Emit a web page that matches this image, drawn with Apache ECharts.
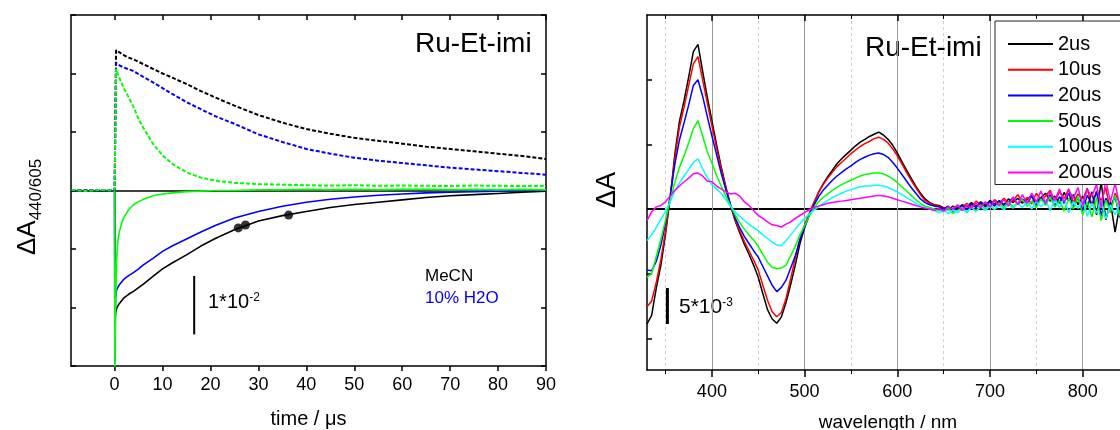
<!DOCTYPE html>
<html><head><meta charset="utf-8">
<script src="https://cdn.jsdelivr.net/npm/echarts@6/dist/echarts.min.js"></script>
<style>html,body{margin:0;padding:0;background:#fff}#c{width:1120px;height:430px}</style>
</head><body><div id="c"></div>
<script>
// ================= LEFT PANEL: kinetic traces (ΔA, units of 1e-2) =================
const timeTicks = [0, 10, 20, 30, 40, 50, 60, 70, 80, 90];
// positive (dotted) traces
const timePos = [-9, -6, -3, -0.5, 0, 0.3, 1, 2, 3, 4, 5, 6, 8, 10, 12, 15, 18, 21, 25, 30, 35, 40, 45, 50, 55, 60, 65, 70, 75, 80, 85, 90];
const posBlack = [0, 0, 0, 0, 0, 2.40, 2.36, 2.31, 2.27, 2.24, 2.20, 2.16, 2.08, 2.00, 1.93, 1.82, 1.70, 1.59, 1.45, 1.29, 1.16, 1.05, 0.97, 0.90, 0.85, 0.80, 0.75, 0.71, 0.67, 0.63, 0.59, 0.54];
const posBlue = [0, 0, 0, 0, 0, 2.18, 2.14, 2.10, 2.07, 2.04, 1.99, 1.94, 1.85, 1.75, 1.65, 1.51, 1.39, 1.27, 1.14, 0.96, 0.83, 0.71, 0.63, 0.56, 0.51, 0.47, 0.43, 0.39, 0.36, 0.33, 0.30, 0.27];
const posGreen = [0.01, -0.01, 0.01, 0, 0, 2.08, 1.92, 1.74, 1.58, 1.42, 1.22, 1.07, 0.80, 0.60, 0.46, 0.31, 0.22, 0.17, 0.13, 0.11, 0.10, 0.09, 0.085, 0.09, 0.08, 0.085, 0.08, 0.075, 0.085, 0.08, 0.075, 0.08];
// negative (solid) traces
const timeNeg = [0, 0.05, 0.2, 0.4, 0.7, 1, 1.5, 2, 3, 4, 5, 6, 8, 10, 12, 15, 18, 21, 25, 30, 35, 40, 45, 50, 55, 60, 65, 70, 75, 80, 85, 90];
const negBlack = [0, -2.2, -2.1, -2.02, -1.97, -1.93, -1.88, -1.83, -1.77, -1.72, -1.66, -1.60, -1.47, -1.34, -1.24, -1.10, -0.95, -0.82, -0.67, -0.52, -0.43, -0.36, -0.29, -0.24, -0.20, -0.16, -0.12, -0.09, -0.07, -0.05, -0.03, -0.01];
const negBlue = [0, -2.95, -1.85, -1.70, -1.65, -1.61, -1.56, -1.51, -1.45, -1.40, -1.34, -1.27, -1.16, -1.04, -0.95, -0.83, -0.71, -0.60, -0.47, -0.36, -0.27, -0.20, -0.15, -0.11, -0.08, -0.06, -0.04, -0.03, -0.02, -0.01, 0, 0];
const negGreen = [0, -3.1, -2.0, -1.2, -0.85, -0.70, -0.55, -0.45, -0.32, -0.24, -0.19, -0.15, -0.09, -0.06, -0.04, -0.02, -0.01, 0, 0, 0.01, 0.01, 0.02, 0.01, 0.02, 0.01, 0.02, 0.02, 0.01, 0.02, 0.01, 0.02, 0.01];
// dots on the black trace
const dotTimes = [25.8, 27.3, 36.3];
const dotValues = [-0.64, -0.59, -0.42];
// scale bar: 1*10^-2 = 1 unit
const barLeftTime = [16.6, 16.6];
const barLeftValue = [-1.46, -2.46];

// ================= RIGHT PANEL: spectra (ΔA, units of 1e-3) =================
const wlMajor = [400, 500, 600, 700, 800];
const wlMinor = [350, 450, 550, 650, 750, 850];
const specTicks = [-18, -9, 0, 9, 18];
const seriesNames = ['2us', '10us', '20us', '50us', '100us', '200us'];
const seriesColors = ['#000000', '#ff0000', '#0000ff', '#00ff00', '#00ffff', '#ff00ff'];
const wavelengths = [330,335,340,345,350,355,360,365,370,375,380,385,390,395,400,405,410,415,420,425,430,435,440,445,450,455,460,465,470,475,480,485,490,495,500,505,510,515,520,525,530,535,540,545,550,555,560,565,570,575,580,585,590,595,600,605,610,615,620,625,630,635,640,645,650,655,660,665,670,675,680,685,690,695,700,705,710,715,720,725,730,735,740,745,750,755,760,765,770,775,780,785,790,795,800,805,810,815,820,825,830,835,840];
const spec2us = [-16.0,-14.8,-11.0,-7.8,-3.5,1.5,7.6,12.2,15.1,18.4, 21.9,22.9,19.2,15.6,12.3,9.0,5.9,3.1,0.6,-1.6, -3.3,-4.9,-6.3,-7.8,-9.5,-11.8,-14.0,-15.3,-15.9,-15.0, -13.0,-10.5,-7.8,-4.8,-2.6,-0.8,0.8,2.3,3.5,4.5, 5.4,6.3,7.0,7.6,8.2,8.8,9.3,9.7,10.1,10.4, 10.7,10.3,9.7,8.9,7.8,6.6,5.4,4.3,3.2,2.2, 1.4,0.9,0.6,
  0.5,0.2,-0.1,0.4,0.0,0.6,0.3,0.9,0.4,1.0, 0.5,1.2,0.7,1.1,0.6,1.4,0.9,1.5,0.8,1.3, 1.9,0.9,1.6,2.2,1.1,1.8,0.8,2.3,1.2,2.0, 0.6,1.8,0.2,2.4,-0.8,3.8,-1.5,1.0,-3.2,0.5];
const spec10us = [-13.6,-12.8,-10.2,-7.0,-3.0,1.6,7.0,11.4,14.2,17.2, 20.2,21.2,18.0,14.8,11.6,8.5,5.6,3.0,0.6,-1.5, -3.0,-4.5,-5.8,-7.1,-8.5,-10.6,-12.7,-14.3,-15.0,-14.4, -12.4,-9.7,-6.8,-4.1,-2.2,-0.6,0.9,2.3,3.4,4.3, 5.1,5.9,6.5,7.1,7.7,8.2,8.7,9.1,9.4,9.8, 10.0,9.7,9.2,8.4,7.4,6.3,5.1,4.0,3.0,2.0, 1.2,0.8,0.5,
  0.4,0.1,0.3,-0.2,0.5,0.2,0.8,0.3,1.1,0.6, 0.9,0.4,1.3,0.8,1.5,0.9,1.2,2.0,1.0,1.6, 0.7,2.2,1.3,1.8,2.6,1.0,2.4,1.4,2.8,0.9, 2.1,1.2,2.9,0.4,2.5,1.1,3.0,-0.5,2.2,0.8];
const spec20us = [-8.5,-8.6,-7.3,-5.0,-2.0,1.8,6.2,9.6,12.0,14.5, 17.2,18.0,15.7,12.9,10.2,7.6,5.0,2.7,0.6,-1.2, -2.6,-3.8,-4.8,-5.8,-6.7,-8.0,-9.3,-10.6,-11.5,-10.9, -9.9,-8.2,-6.5,-4.3,-2.5,-0.9,0.5,1.7,2.6,3.3, 4.0,4.6,5.1,5.6,6.0,6.5,6.9,7.2,7.5,7.7, 7.8,7.6,7.2,6.5,5.7,4.8,3.9,3.0,2.2,1.4, 0.9,0.6,0.4,
  0.3,0.0,0.4,-0.3,0.2,0.5,-0.1,0.7,0.2,0.9, 0.3,1.0,0.4,1.2,0.5,0.9,1.6,0.6,1.4,0.8, 1.8,0.5,1.5,0.9,2.0,0.4,1.7,0.8,2.2,0.3, 1.6,-0.2,1.9,0.6,2.4,-0.9,1.5,0.2,1.8,-1.2];
const spec50us = [-9.5,-9.0,-6.6,-4.2,-1.5,1.3,3.7,5.8,7.4,9.2, 11.2,12.3,10.2,8.0,6.4,4.7,3.2,1.8,0.5,-0.8, -1.9,-2.8,-3.6,-4.3,-5.2,-6.3,-7.4,-8.1,-8.3,-8.2, -7.8,-6.5,-5.2,-3.6,-2.3,-1.0,0.1,1.0,1.6,2.1, 2.6,3.0,3.4,3.7,4.0,4.3,4.6,4.8,4.9,5.0, 5.0,4.9,4.6,4.2,3.7,3.1,2.5,1.9,1.3,0.8, 0.4,0.2,0.0,
  -0.2,-0.4,0.1,-0.6,-0.2,0.2,-0.5,0.3,-0.3,0.5, 0.0,0.6,-0.1,0.8,0.2,1.0,0.3,0.9,1.3,0.4, 1.1,0.2,1.4,0.5,1.7,0.3,1.2,-0.3,1.5,0.0, 1.8,-0.8,1.0,-1.1,1.6,-1.6,1.2,-0.4,1.9,-1.0];
const spec100us = [-4.4,-3.6,-2.6,-1.4,-0.3,1.0,2.5,3.6,4.6,5.5, 6.5,7.0,5.6,4.4,3.4,2.8,2.2,1.3,0.4,-0.4, -1.0,-1.6,-2.1,-2.6,-3.0,-3.6,-4.1,-4.6,-5.0,-5.1, -4.4,-3.6,-2.8,-2.0,-1.3,-0.7,-0.2,0.3,0.8,1.2, 1.6,1.9,2.2,2.5,2.7,2.9,3.1,3.2,3.2,3.3, 3.3,3.2,3.0,2.7,2.4,2.0,1.6,1.2,0.8,0.5, 0.2,0.0,-0.2,
  -0.5,-0.2,-0.6,-0.1,-0.5,0.0,-0.4,0.2,-0.3,0.3, -0.2,0.4,0.0,0.5,-0.1,0.7,0.1,0.8,0.2,1.0, 0.0,1.1,0.3,1.2,-0.2,1.3,0.2,1.5,-0.5,1.0, 0.1,1.4,-1.0,0.8,-0.6,1.2,-1.4,0.6,-0.8,0.9];
const spec200us = [-1.6,-0.4,0.3,0.5,1.0,1.8,2.6,3.2,3.8,4.3, 4.9,5.0,4.6,3.9,3.8,3.2,2.8,2.4,2.1,2.2, 1.8,1.0,0.5,-0.2,-0.9,-1.3,-1.8,-2.2,-2.3,-2.5, -2.1,-1.8,-1.3,-0.9,-0.5,-0.1,0.2,0.4,0.6,0.8, 0.9,1.0,1.1,1.2,1.3,1.4,1.5,1.6,1.7,1.8, 1.9,1.8,1.7,1.5,1.3,1.1,0.9,0.7,0.5,0.3, 0.1,0.0,-0.2,
  0.1,-0.3,0.3,0.0,0.6,-0.2,0.5,0.1,0.8,0.2, 1.0,0.3,1.1,0.5,1.3,0.4,1.7,0.6,2.0,0.8, 2.2,1.0,2.5,0.7,2.4,1.2,2.8,0.9,2.6,1.5, 3.0,0.5,2.7,1.8,3.4,0.2,4.0,1.0,3.6,0.3];
const spectra = [spec2us, spec10us, spec20us, spec50us, spec100us, spec200us];
// scale bar: 5*10^-3 = 5 units
const barRightWl = [352, 352];
const barRightValue = [-11, -16];

// ================= build =================
const FONT = "'Liberation Sans', Arial, Helvetica, sans-serif";
const pairs = (xs, ys) => xs.map((x, i) => [x, ys[i]]);
const frame = { onZero: false, show: true, lineStyle: { color: '#000', width: 1.5 } };
const noLabel = { show: false };
const noSplit = { show: false };

const xAxis = [
  { gridIndex: 0, type: 'value', position: 'bottom', min: -9.1, max: 90, axisLine: frame,
    axisTick: { show: true, customValues: timeTicks, inside: false, length: 5, lineStyle: { color: '#000', width: 1.5 } },
    axisLabel: { show: true, customValues: timeTicks, fontSize: 18, color: '#000', fontFamily: FONT, margin: 10 },
    splitLine: noSplit, name: 'time / μs', nameLocation: 'middle', nameGap: 43,
    nameTextStyle: { fontSize: 20, color: '#000', fontFamily: FONT } },
  { gridIndex: 0, type: 'value', position: 'top', min: -9.1, max: 90, axisLine: frame,
    axisTick: { show: true, customValues: timeTicks, inside: true, length: 5, lineStyle: { color: '#000', width: 1.5 } },
    axisLabel: noLabel, splitLine: noSplit },
  { gridIndex: 1, type: 'value', position: 'bottom', min: 330, max: 850, axisLine: frame,
    axisTick: { show: true, customValues: wlMajor, inside: false, length: 7, lineStyle: { color: '#000', width: 1.5 } },
    axisLabel: { show: true, customValues: wlMajor, fontSize: 18, color: '#000', fontFamily: FONT, margin: 13 },
    splitLine: { show: true, lineStyle: { color: '#9a9a9a', width: 1 } },
    name: 'wavelength / nm', nameLocation: 'middle', nameGap: 43,
    nameTextStyle: { fontSize: 19, color: '#000', fontFamily: FONT } },
  { gridIndex: 1, type: 'value', position: 'bottom', min: 330, max: 850, axisLine: { onZero: false, show: false },
    axisTick: { show: true, customValues: wlMinor, inside: false, length: 4, lineStyle: { color: '#000', width: 1 } },
    axisLabel: noLabel, splitLine: { show: true, lineStyle: { color: '#cfcfcf', width: 1, type: [3, 3] } } },
  { gridIndex: 1, type: 'value', position: 'top', min: 330, max: 850, axisLine: frame,
    axisTick: { show: true, customValues: wlMajor, inside: true, length: 6, lineStyle: { color: '#000', width: 1.5 } },
    axisLabel: noLabel, splitLine: noSplit },
  { gridIndex: 1, type: 'value', position: 'top', min: 330, max: 850, axisLine: { onZero: false, show: false },
    axisTick: { show: true, customValues: wlMinor, inside: true, length: 4, lineStyle: { color: '#000', width: 1 } },
    axisLabel: noLabel, splitLine: noSplit }
];
const yAxis = [
  { gridIndex: 0, type: 'value', position: 'left', min: -3, max: 3, interval: 1, axisLine: frame,
    axisTick: { show: true, inside: true, length: 5, lineStyle: { color: '#000', width: 1.5 } }, axisLabel: noLabel, splitLine: noSplit },
  { gridIndex: 0, type: 'value', position: 'right', min: -3, max: 3, interval: 1, axisLine: frame,
    axisTick: { show: true, inside: true, length: 5, lineStyle: { color: '#000', width: 1.5 } }, axisLabel: noLabel, splitLine: noSplit },
  { gridIndex: 0, type: 'value', position: 'left', min: -3, max: 3, axisLine: { onZero: false, show: false },
    axisTick: { show: false, customValues: [0] }, axisLabel: noLabel,
    splitLine: { show: true, lineStyle: { color: '#000', width: 1.5 } } },
  { gridIndex: 1, type: 'value', position: 'left', min: -22.4, max: 27, axisLine: frame,
    axisTick: { show: true, customValues: specTicks, inside: true, length: 5, lineStyle: { color: '#000', width: 1.5 } }, axisLabel: noLabel, splitLine: noSplit },
  { gridIndex: 1, type: 'value', position: 'right', min: -22.4, max: 27, axisLine: frame,
    axisTick: { show: true, customValues: specTicks, inside: true, length: 5 }, axisLabel: noLabel, splitLine: noSplit },
  { gridIndex: 1, type: 'value', position: 'left', min: -22.4, max: 27, axisLine: { onZero: false, show: false },
    axisTick: { show: false, customValues: [0] }, axisLabel: noLabel,
    splitLine: { show: true, lineStyle: { color: '#000', width: 2 } } }
];

const series = [];
const L = (data, color, width, type, name) => ({
  type: 'line', name, xAxisIndex: 0, yAxisIndex: 0, data, symbol: 'none', silent: true,
  color, lineStyle: { color, width, type }
});
series.push(L(pairs(timePos, posBlack), '#000', 2, [4, 2]));
series.push(L(pairs(timePos, posBlue), '#0000ff', 2, [4, 2]));
series.push(L(pairs(timePos, posGreen), '#00ff00', 2, [4, 2]));
series.push(L(pairs(timeNeg, negBlack), '#000', 1.6, 'solid'));
series.push(L(pairs(timeNeg, negBlue), '#0000ff', 1.6, 'solid'));
series.push(L(pairs(timeNeg, negGreen), '#00ff00', 1.6, 'solid'));
series.push(L(pairs(barLeftTime, barLeftValue), '#000', 2, 'solid'));
series.push({ type: 'scatter', xAxisIndex: 0, yAxisIndex: 0, data: pairs(dotTimes, dotValues),
  symbol: 'circle', symbolSize: 9, itemStyle: { color: '#000' }, silent: true });

spectra.forEach((vals, k) => {
  series.push({ type: 'line', name: seriesNames[k], xAxisIndex: 2, yAxisIndex: 3,
    data: pairs(wavelengths, vals), symbol: 'none', silent: true,
    color: seriesColors[k], lineStyle: { color: seriesColors[k], width: 1.5 } });
});
series.push({ type: 'line', xAxisIndex: 2, yAxisIndex: 3, data: pairs(barRightWl, barRightValue),
  symbol: 'none', silent: true, color: '#000', lineStyle: { color: '#000', width: 3 } });

const T = (x, y, text, size, color, extra) => Object.assign({
  type: 'text', x, y, silent: true,
  style: { text, fontSize: size, fontFamily: FONT, fill: color, align: 'left', verticalAlign: 'middle' }
}, extra || {});

const graphic = [
  T(415, 44, 'Ru-Et-imi', 28, '#000'),
  T(865, 48.5, 'Ru-Et-imi', 28, '#000'),
  T(425, 276.5, 'MeCN', 17, '#000'),
  T(425, 298, '10% H2O', 17, '#0000ff'),
  { type: 'text', x: 208, y: 302, silent: true,
    style: { text: '{m|1*10}{s|-2}', fontFamily: FONT, fill: '#000', align: 'left', verticalAlign: 'middle',
      rich: { m: { fontSize: 20, fontFamily: FONT, fill: '#000' }, s: { fontSize: 12, fontFamily: FONT, fill: '#000', verticalAlign: 'top' } } } },
  { type: 'text', x: 679, y: 307.5, silent: true,
    style: { text: '{m|5*10}{s|-3}', fontFamily: FONT, fill: '#000', align: 'left', verticalAlign: 'middle',
      rich: { m: { fontSize: 21, fontFamily: FONT, fill: '#000' }, s: { fontSize: 12, fontFamily: FONT, fill: '#000', verticalAlign: 'top' } } } },
  { type: 'text', x: 28, y: 207, rotation: Math.PI / 2, silent: true,
    style: { text: '{a|ΔA}{s|440/605}', fontFamily: FONT, fill: '#000', align: 'center', verticalAlign: 'middle',
      rich: { a: { fontSize: 26, fontFamily: FONT, fill: '#000', verticalAlign: 'bottom' }, s: { fontSize: 17, fontFamily: FONT, fill: '#000', verticalAlign: 'bottom', padding: [0, 0, -4, 0] } } } },
  { type: 'text', x: 608, y: 190, rotation: Math.PI / 2, silent: true,
    style: { text: 'ΔA', fontSize: 27, fontFamily: FONT, fill: '#000', align: 'center', verticalAlign: 'middle' } }
];

const option = {
  animation: false,
  backgroundColor: '#fff',
  grid: [
    { left: 71, top: 15, width: 475, height: 351, containLabel: false, outerBoundsMode: 'none' },
    { left: 647, top: 15, width: 482, height: 355, containLabel: false, outerBoundsMode: 'none' }
  ],
  xAxis, yAxis, series,
  legend: {
    data: seriesNames, orient: 'vertical', left: 995, top: 21, icon: 'rect',
    itemWidth: 45, itemHeight: 2, itemGap: 5.7, padding: [13, 40, 2, 13],
    borderColor: '#222', borderWidth: 1, backgroundColor: '#fff', selectedMode: false,
    textStyle: { fontSize: 20, color: '#000', fontFamily: FONT, lineHeight: 20 }
  },
  graphic
};
const chart = echarts.init(document.getElementById('c'), null, { renderer: 'canvas' });
chart.setOption(option);
</script></body></html>
